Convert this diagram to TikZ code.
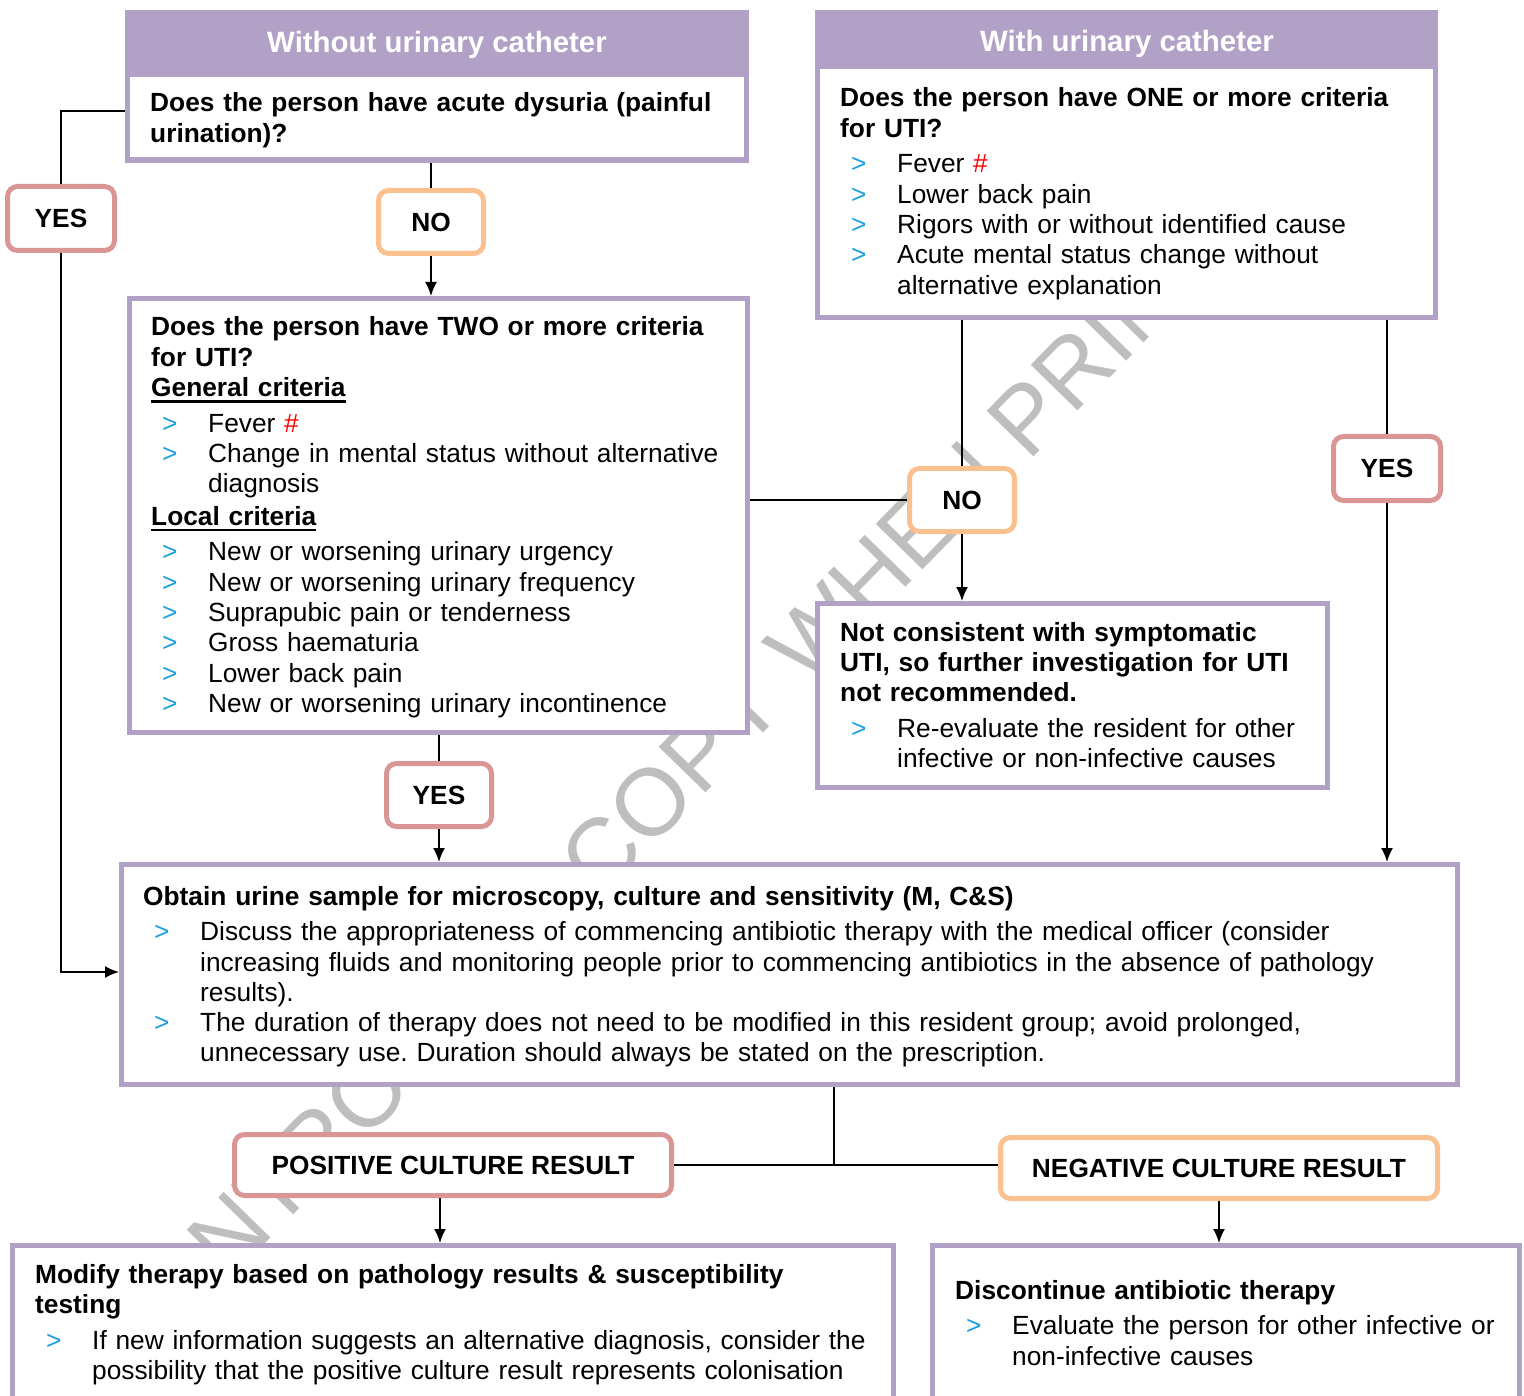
\documentclass[tikz,border=0pt]{standalone}
\usepackage{fontspec}
\setmainfont{Liberation Sans}
\frenchspacing
\usetikzlibrary{arrows.meta,calc}
\definecolor{hdrpurple}{HTML}{B2A1C7}
\definecolor{yesrose}{HTML}{D99694}
\definecolor{noorange}{HTML}{FAC090}
\definecolor{bulletblue}{HTML}{1E9FE0}
\definecolor{markgray}{HTML}{BEBEBE}
\newlength{\critindent}\setlength{\critindent}{57pt}
\newcommand{\crit}[1]{\par\noindent\hangindent=\critindent\hangafter=1\makebox[\critindent][l]{\hspace*{11pt}\textcolor{bulletblue}{>}}#1\par}
\newcommand{\ulhead}[1]{\setbox0\hbox{#1}\rlap{\rule[-6pt]{\wd0}{2.4pt}}\box0}
\tikzset{
  frame/.style={draw=hdrpurple,line width=5pt,fill=white,inner sep=0pt},
  header/.style={fill=hdrpurple,inner sep=0pt},
  inner/.style={fill=white,inner sep=0pt},
  yesbox/.style={draw=yesrose,line width=5pt,fill=white,rounded corners=10pt,inner sep=0pt,font=\bfseries\fontsize{26.3}{30}\selectfont},
  nobox/.style={yesbox,draw=noorange},
  blocktext/.style={anchor=base west,inner sep=0pt,text width=#1,align=left,font=\frenchspacing\fontsize{26.3}{30.3}\selectfont},
  headtext/.style={anchor=base,inner sep=0pt,text=white,font=\bfseries\fontsize{29.4}{34}\selectfont},
  watermark/.style={anchor=base west,inner sep=0pt,text=markgray,font=\fontsize{95}{95}\selectfont},
  link/.style={line width=1.8pt},
  flow/.style={link,-{Latex[length=14pt,width=12pt]}}
}
\begin{document}
\begin{tikzpicture}[x=1pt,y=-1pt]
\useasboundingbox (0,0) rectangle (1524,1396);
\clip (0,0) rectangle (1524,1396);
\node[watermark,rotate=45.7] (wmark) at (33,1482) {UNCONTROLLED COPY WHEN PRINTED};

\node[header,minimum width=624pt,minimum height=153pt] (hdrL) at (437,86.5) {};
\node[inner,minimum width=614pt,minimum height=80pt] (dys) at (437,117) {};
\node[header,minimum width=623pt,minimum height=310pt] (hdrR) at (1126.5,165) {};
\node[inner,minimum width=613pt,minimum height=246pt] (one) at (1126.5,192) {};
\node[frame,minimum width=618pt,minimum height=434pt] (two) at (438.5,515.5) {};
\node[frame,minimum width=510pt,minimum height=184pt] (notuti) at (1072.5,695.5) {};
\node[frame,minimum width=1336pt,minimum height=220pt] (urine) at (789.5,974.5) {};
\node[frame,minimum width=881pt,minimum height=174.5pt] (modify) at (453,1332.75) {};
\node[frame,minimum width=587pt,minimum height=174.5pt] (stop) at (1226,1332.75) {};

\node[yesbox,minimum width=107pt,minimum height=64pt] (yesL) at (61,218.5) {YES};
\node[nobox,minimum width=105pt,minimum height=63pt] (noL) at (431,222) {NO};
\node[yesbox,minimum width=105pt,minimum height=63pt] (yesM) at (439,795) {YES};
\node[nobox,minimum width=105pt,minimum height=63pt] (noR) at (962,500) {NO};
\node[yesbox,minimum width=107pt,minimum height=64pt] (yesR) at (1387,468.5) {YES};
\node[yesbox,minimum width=437pt,minimum height=61pt] (pos) at (453,1165) {POSITIVE CULTURE RESULT};
\node[nobox,minimum width=437pt,minimum height=61pt] (neg) at (1219,1168) {NEGATIVE CULTURE RESULT};

\draw[link] ($(hdrL.west)+(0,24.5)$) -| (yesL.north);
\draw[flow] (yesL.south) |- ($(urine.west)+(0,-2.5)$);
\draw[link] (noL.north |- hdrL.south) -- (noL.north);
\draw[flow] (noL.south) -- (noL.south |- two.north);
\draw[link] (yesM.north |- two.south) -- (yesM.north);
\draw[flow] (yesM.south) -- (yesM.south |- urine.north);
\draw[link] (noR.west -| two.east) -- (noR.west);
\draw[link] (noR.north |- hdrR.south) -- (noR.north);
\draw[flow] (noR.south) -- (noR.south |- notuti.north);
\draw[link] (yesR.north |- hdrR.south) -- (yesR.north);
\draw[flow] (yesR.south) -- (yesR.south |- urine.north);
\coordinate (split) at (834,1165);
\draw[link] (split |- urine.south) -- (split);
\draw[link] (pos.east) -- (pos.east -| neg.west);
\draw[flow] ($(pos.south)+(-13,0)$) -- ($(pos.south |- modify.north)+(-13,0)$);
\draw[flow] (neg.south) -- (neg.south |- stop.north);

\node[headtext] (hdrLtext) at (437,53) {Without urinary catheter};
\node[headtext] (hdrRtext) at (1127,52) {With urinary catheter};
\node[blocktext=700pt] (dysText) at (150,112) {\textbf{Does the person have acute dysuria (painful\\urination)?}};
\node[blocktext=700pt] (oneText) at (840,107) {\textbf{Does the person have ONE or more criteria\\for UTI?}\par\vspace{5.4pt}
  \crit{Fever \textcolor{red}{\#}}
  \crit{Lower back pain}
  \crit{Rigors with or without identified cause}
  \crit{Acute mental status change without\newline alternative explanation}};
\node[blocktext=700pt] (twoText) at (151,336) {\textbf{Does the person have TWO or more criteria\\for UTI?}\\\textbf{\ulhead{General criteria}}\par\vspace{5.4pt}
  \crit{Fever \textcolor{red}{\#}}
  \crit{Change in mental status without alternative\newline diagnosis}
  \vspace{2pt}\noindent\textbf{\ulhead{Local criteria}}\par\vspace{5.4pt}
  \crit{New or worsening urinary urgency}
  \crit{New or worsening urinary frequency}
  \crit{Suprapubic pain or tenderness}
  \crit{Gross haematuria}
  \crit{Lower back pain}
  \crit{New or worsening urinary incontinence}};
\node[blocktext=700pt] (notText) at (840,641) {\textbf{Not consistent with symptomatic\\UTI, so further investigation for UTI\\not recommended.}\par\vspace{5.4pt}
  \crit{Re-evaluate the resident for other\newline infective or non-infective causes}};
\node[blocktext=1350pt] (urineText) at (143,905) {\textbf{Obtain urine sample for microscopy, culture and sensitivity (M, C\&S)}\par\vspace{5.4pt}
  \crit{Discuss the appropriateness of commencing antibiotic therapy with the medical officer (consider\newline increasing fluids and monitoring people prior to commencing antibiotics in the absence of pathology\newline results).}
  \crit{The duration of therapy does not need to be modified in this resident group; avoid prolonged,\newline unnecessary use. Duration should always be stated on the prescription.}};
\node[blocktext=900pt] (modifyText) at (35,1283) {\textbf{Modify therapy based on pathology results \& susceptibility\\testing}\par\vspace{5.4pt}
  \crit{If new information suggests an alternative diagnosis, consider the\newline possibility that the positive culture result represents colonisation}};
\node[blocktext=700pt] (stopText) at (955,1299) {\textbf{Discontinue antibiotic therapy}\par\vspace{5.4pt}
  \crit{Evaluate the person for other infective or\newline non-infective causes}};
\end{tikzpicture}
\end{document}
